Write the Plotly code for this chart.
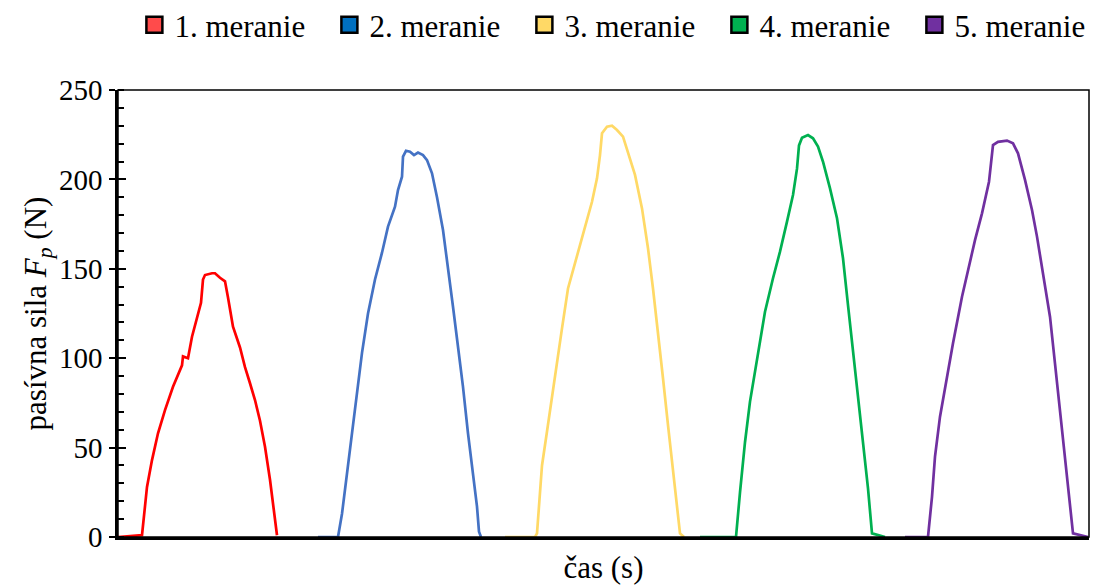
import plotly.graph_objects as go

# ---- data (time in s, passive force in N) ----
names = ["1. meranie", "2. meranie", "3. meranie", "4. meranie", "5. meranie"]
line_colors = ["#FF0000", "#4472C4", "#FFD966", "#00B050", "#7030A0"]
legend_colors = ["#FF4B4B", "#0070C0", "#FFD966", "#00B050", "#7030A0"]

t1 = [0.0, 2.4, 2.9, 3.4, 4.0, 4.7, 5.5, 6.4, 6.5, 7.0, 7.4, 7.9, 8.3, 8.5, 8.7,
      9.4, 9.7, 10.2, 10.7, 11.0, 11.5, 12.2, 12.7, 13.2, 13.7, 14.2, 14.7, 15.2, 15.7, 15.9]
f1 = [0, 1, 28, 43, 58, 71, 84, 96, 101, 100, 112, 122, 131, 144, 146.5,
      147.5, 147.5, 145, 143, 134, 117.6, 106, 95, 86, 76.6, 65, 50.5, 32, 11, 1]

t2 = [20.0, 22.0, 22.4, 22.9, 23.4, 23.9, 24.4, 25.0, 25.7, 26.4, 27.0, 27.7, 28.0, 28.4, 28.5,
      28.8, 29.2, 29.6, 30.0, 30.5, 30.9, 31.4, 31.9, 32.5, 33.0, 33.5, 34.0, 34.5, 35.0, 35.5,
      35.9, 36.1, 36.3]
f2 = [0, 0, 13, 35.6, 60, 80, 103, 125, 144, 159, 173.6, 184.7, 194, 201.5, 212.7,
      216, 215.5, 213.6, 215, 213.6, 210.8, 203.4, 190, 171.7, 151, 128.8, 106.4, 84, 58, 35.6,
      17, 3, 0]

t3 = [38.7, 41.7, 41.9, 42.4, 42.9, 43.4, 43.9, 44.4, 45.0, 45.9, 46.7, 47.4, 47.9, 48.2, 48.4,
      48.9, 49.4, 49.9, 50.5, 51.0, 51.7, 52.4, 53.0, 53.5, 54.0, 54.5, 55.0, 55.5, 56.0, 56.2, 56.6]
f3 = [0, 0, 2, 40, 59, 79, 98, 116.7, 139, 157.7, 174.5, 187.5, 200.6, 213.6, 225.8,
      229.5, 230, 227.6, 223.9, 215.5, 202.5, 183.8, 161.5, 139, 114.8, 88.8, 62.6, 36.5, 12.3, 2, 0]

t4 = [58.2, 61.8, 62.2, 62.7, 63.2, 63.9, 64.7, 65.5, 66.2, 66.9, 67.5, 67.9, 68.1, 68.4,
      69.0, 69.5, 70.0, 70.5, 71.2, 71.9, 72.5, 73.0, 73.5, 74.0, 74.5, 75.0, 75.4, 76.7]
f4 = [0, 0, 25, 53, 75.7, 100, 126, 144.7, 159.6, 176.4, 191.3, 206, 219, 223.3,
      224.8, 223, 218.3, 209.9, 195, 178.3, 155.9, 129.7, 103.6, 77.6, 51.5, 27.2, 2, 0]

t5 = [78.7, 81.0, 81.4, 81.7, 82.2, 82.9, 83.5, 84.4, 85.0, 85.7, 86.4, 86.9, 87.1, 87.3, 87.5,
      88.0, 88.9, 89.5, 90.0, 90.7, 91.4, 91.9, 92.5, 93.2, 93.7, 94.2, 94.7, 95.2, 95.5, 97.0]
f5 = [0, 0, 22.5, 45, 67.3, 89.7, 108.3, 134.4, 149.3, 166, 181, 194, 198.7, 209, 219.2,
      221, 221.7, 220.2, 214.6, 199.7, 182.9, 168, 147.5, 123.2, 97, 71, 45, 20.7, 2, 0]

times = [t1, t2, t3, t4, t5]
forces = [f1, f2, f3, f4, f5]

y_major = [0, 50, 100, 150, 200, 250]
x_range = [0, 97.1]
y_range = [0, 250]

FONT = "Liberation Serif"
F_TEXT = dict(family=FONT, size=31, color="black")
F_TICK = dict(family=FONT, size=29, color="black")

fig = go.Figure()

for t, f, c in zip(times, forces, line_colors):
    fig.add_trace(go.Scatter(x=t, y=f, mode="lines", line=dict(color=c, width=2.7),
                             showlegend=False, hoverinfo="skip"))

for n, c in zip(names, legend_colors):
    fig.add_trace(go.Scatter(x=[None], y=[None], mode="markers", name=n,
                             marker=dict(symbol="square", size=16, color=c,
                                         line=dict(color="black", width=2.5))))

fig.add_trace(go.Scatter(x=[None], y=[None], yaxis="y2", showlegend=False, hoverinfo="skip"))

fig.update_layout(
    template="none",
    width=1093, height=585,
    margin=dict(l=118, r=4, t=90, b=48, autoexpand=False),
    paper_bgcolor="white", plot_bgcolor="white",
    font=F_TEXT,
    legend=dict(orientation="h", x=1.021, xanchor="right", y=1.145, yanchor="middle",
                font=F_TEXT, itemsizing="trace", entrywidth=150,
                bgcolor="rgba(0,0,0,0)", borderwidth=0),
    xaxis=dict(range=x_range, showticklabels=False, ticks="", showgrid=False, zeroline=False,
               showline=True, linecolor="black", linewidth=2.5, automargin=False,
               title=dict(text="čas (s)", font=F_TEXT, standoff=19)),
    yaxis=dict(range=y_range, tickvals=y_major, ticks="outside", ticklen=6, tickwidth=2,
               tickcolor="black", showgrid=False, zeroline=False, automargin=False,
               showline=True, linecolor="black", linewidth=2.5,
               ticklabelstandoff=1, tickfont=F_TICK,
               minor=dict(dtick=10, ticks="inside", ticklen=6, tickwidth=2, tickcolor="black",
                          showgrid=False),
               title=dict(text="pasívna sila <i>F</i><sub><i>p</i></sub> (N)",
                          font=F_TEXT, standoff=4)),
    yaxis2=dict(range=y_range, overlaying="y", side="left", tickvals=y_major,
                ticks="inside", ticklen=8, tickwidth=2, tickcolor="black", automargin=False,
                showticklabels=False, showgrid=False, zeroline=False, showline=False),
    shapes=[dict(type="rect", xref="paper", yref="paper", x0=0, y0=0, x1=1, y1=1,
                 line=dict(color="black", width=1.5), layer="above")],
)

fig.write_html("out.html", config={"displayModeBar": False},
               post_script="document.body.style.margin='0px';document.body.style.overflow='hidden';")
